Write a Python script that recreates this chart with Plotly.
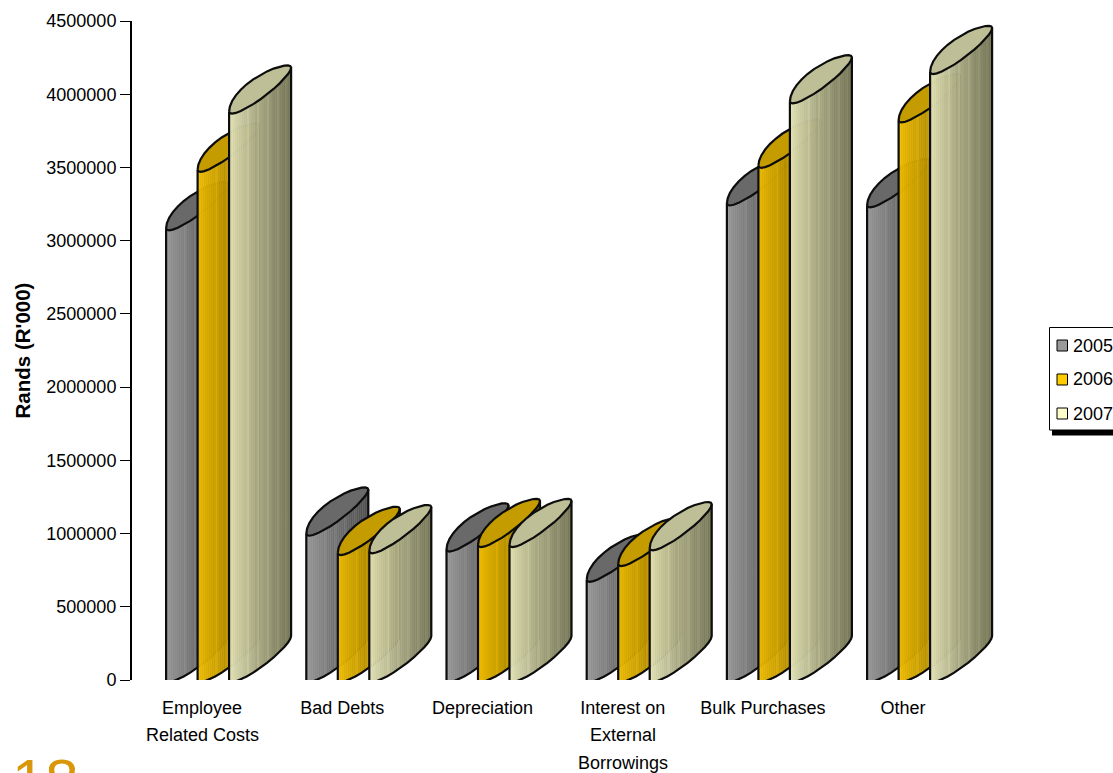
import numpy as np
import plotly.graph_objects as go

# Operating expenditure by category, Rands (R'000)
categories = ["Employee", "Bad Debts", "Depreciation", "Interest on", "Bulk Purchases", "Other"]
category_extra_lines = [["Related Costs"], [], [], ["External", "Borrowings"], [], []]
years = ["2005", "2006", "2007"]
values_2005 = [3085000, 1000000, 892000, 685000, 3255000, 3242000]
values_2006 = [3485000, 868000, 922000, 792000, 3512000, 3822000]
values_2007 = [3882000, 880000, 922000, 900000, 3952000, 4152000]
y_ticks = [0, 500000, 1000000, 1500000, 2000000, 2500000, 3000000, 3500000, 4000000, 4500000]

series_values = [values_2005, values_2006, values_2007]
side_left = [(152, 152, 152), (238, 188, 0), (226, 226, 182)]
side_right = [(80, 80, 80), (140, 110, 0), (118, 118, 88)]
top_colors = ["#696969", "#c49c00", "#bfbf97"]
legend_colors = ["#999999", "#ffcc00", "#ffffcc"]

# Brightness of each facet of a cylinder; the raised ones read as light streaks
facet_shade = [1.0, 1.0, 1.0, 1.0, 1.0, 1.0, 1.0, 1.0, 1.0, 1.07, 1.0, 0.99, 1.0, 0.97, 1.06, 1.0,
               1.0, 0.98, 1.0, 1.08, 1.0, 0.99, 0.96, 1.0, 1.07, 1.0, 1.0, 0.98, 1.06, 1.0, 1.0]

W, H = 1113, 773
M_L, M_T, M_B, M_R = 132, 21, 93, 0
PLOT_W, PLOT_H = W - M_L - M_R, H - M_T - M_B
CAT_PX = 140.2
Y_MAX = 4500000
PX_PER_VALUE = PLOT_H / Y_MAX

# Cylinder projection, in pixels relative to the front-left corner
BAR_STEP = 31.5
FIRST_BAR = -36.0
DEPTH_X, DEPTH_Y = 62.0, 44.0
BULGE_FRONT = 10.0
BULGE_BACK_LEFT, BULGE_BACK_RIGHT = 21.0, 8.0


def to_x(px):
    return px / CAT_PX


def to_y(px):
    return px / PX_PER_VALUE


def rim(angle, bulge):
    # Positive y points down the screen; bulge pushes the rim off the diagonal
    x = DEPTH_X / 2 * (1 - np.cos(angle))
    y = -DEPTH_Y / 2 * (1 - np.cos(angle)) + bulge * np.sin(angle)
    return x, y


angles = np.linspace(0, np.pi, 15)
front_x, front_y = rim(angles, BULGE_FRONT)
back_x, back_y = rim(angles, -np.linspace(BULGE_BACK_LEFT, BULGE_BACK_RIGHT, len(angles)))


def front_at(x):
    return np.interp(x, front_x, front_y)


def mix(a, b, t, shade):
    return "rgb({},{},{})".format(*[int(min(255, (a[i] + (b[i] - a[i]) * t) * shade)) for i in range(3)])


fig = go.Figure()
n_facets = len(facet_shade)
edges = np.linspace(0, DEPTH_X, n_facets + 1)

for s, vals in enumerate(series_values):
    offset = FIRST_BAR + s * BAR_STEP
    # Side of the cylinders, one trace per facet across all categories
    for k in range(n_facets):
        xs, ys = [], []
        sub = np.linspace(edges[k], edges[k + 1], 3)
        for c, v in enumerate(vals):
            xpx = c * CAT_PX + offset + sub
            rim_off = to_y(-front_at(sub))
            xs += [to_x(p) for p in xpx] + [to_x(p) for p in xpx[::-1]] + [None]
            ys += list(v + rim_off) + list(rim_off[::-1]) + [None]
        color = mix(side_left[s], side_right[s], (k / (n_facets - 1)) ** 0.85, facet_shade[k])
        fig.add_trace(go.Scatter(x=xs, y=ys, mode="lines", fill="toself", fillcolor=color,
                                 line=dict(color=color, width=0.8), hoverinfo="skip",
                                 showlegend=False, cliponaxis=False))
    # Top caps
    xs, ys = [], []
    ox, oy = [], []
    for c, v in enumerate(vals):
        base = c * CAT_PX + offset
        cap_x = np.concatenate([front_x, back_x[::-1]])
        cap_y = np.concatenate([front_y, back_y[::-1]])
        xs += list(to_x(base + cap_x)) + [None]
        ys += list(v + to_y(-cap_y)) + [None]
        # Silhouette: cap rim, then down the sides and along the base curve
        ox += list(to_x(base + cap_x)) + [None]
        oy += list(v + to_y(-cap_y)) + [None]
        sil_x = np.concatenate([[front_x[0]], front_x, [front_x[-1]]])
        sil_y = np.concatenate([[v], to_y(-front_y), [v + to_y(-front_y[-1])]])
        ox += list(to_x(base + sil_x)) + [None]
        oy += list(sil_y) + [None]
    fig.add_trace(go.Scatter(x=xs, y=ys, mode="lines", fill="toself", fillcolor=top_colors[s],
                             line=dict(width=0), hoverinfo="skip", showlegend=False, cliponaxis=False))
    fig.add_trace(go.Scatter(x=ox, y=oy, mode="lines", line=dict(color="#0d0d0d", width=2.2),
                             hoverinfo="skip", showlegend=False, cliponaxis=False))

FONT = "Liberation Sans, Arial, sans-serif"
TICK_SIZE = 18


def px_x(px):
    return (px - M_L) / PLOT_W


def px_y(py):
    return (H - M_B - py) / PLOT_H


shapes = [
    dict(type="rect", xref="paper", yref="paper", x0=px_x(1052), x1=px_x(1120), y0=px_y(430), y1=px_y(435.5),
         fillcolor="#000000", line=dict(width=0)),
    dict(type="rect", xref="paper", yref="paper", x0=px_x(1049.5), x1=px_x(1120), y0=px_y(430), y1=px_y(327.5),
         fillcolor="#ffffff", line=dict(color="#000000", width=1)),
]
annotations = []
for i, year in enumerate(years):
    cy = 345.5 + i * 34
    shapes.append(dict(type="rect", xref="paper", yref="paper", x0=px_x(1057), x1=px_x(1067.5),
                       y0=px_y(cy + 5.5), y1=px_y(cy - 5.5), fillcolor=legend_colors[i],
                       line=dict(color="#000000", width=1)))
    annotations.append(dict(text=year, xref="paper", yref="paper", x=px_x(1071), y=px_y(cy), xanchor="left",
                            yanchor="middle", showarrow=False,
                            font=dict(family=FONT, size=TICK_SIZE, color="#000000")))

# Wrapped category names continue below the axis labels
for c, extra in enumerate(category_extra_lines):
    for j, line in enumerate(extra):
        annotations.append(dict(text=line, xref="x", yref="paper", x=c, y=px_y(735 + j * 28), xanchor="center",
                                yanchor="middle", showarrow=False,
                                font=dict(family=FONT, size=TICK_SIZE, color="#000000")))

# Slide number, running off the bottom edge
annotations.append(dict(text="18", xref="paper", yref="paper", x=px_x(10), y=px_y(745), xanchor="left",
                        yanchor="top", showarrow=False, font=dict(family=FONT, size=60, color="#d9980a")))

fig.update_layout(
    width=W, height=H, autosize=False,
    margin=dict(l=M_L, r=M_R, t=M_T, b=M_B, pad=0),
    paper_bgcolor="#ffffff", plot_bgcolor="#ffffff",
    showlegend=False,
    shapes=shapes, annotations=annotations,
    font=dict(family=FONT, size=TICK_SIZE, color="#000000"),
    xaxis=dict(range=[-0.5, PLOT_W / CAT_PX - 0.5], tickmode="array", tickvals=list(range(len(categories))),
               ticktext=categories, showgrid=False, zeroline=False, showline=False, ticks="", ticklen=0,
               ticklabelstandoff=15,
               tickfont=dict(family=FONT, size=TICK_SIZE, color="#000000"), fixedrange=True),
    yaxis=dict(range=[0, Y_MAX], tickmode="array", tickvals=y_ticks, ticktext=[str(t) for t in y_ticks],
               showgrid=False, zeroline=False, showline=True, linecolor="#000000", linewidth=2,
               ticks="outside", ticklen=10, tickcolor="#000000", tickwidth=1,
               tickfont=dict(family=FONT, size=TICK_SIZE, color="#000000"), fixedrange=True,
               title=dict(text="<b>Rands (R'000)</b>", font=dict(family=FONT, size=20.5, color="#000000"), standoff=10)),
)

fig.write_html("out.html", config={"displayModeBar": False})
